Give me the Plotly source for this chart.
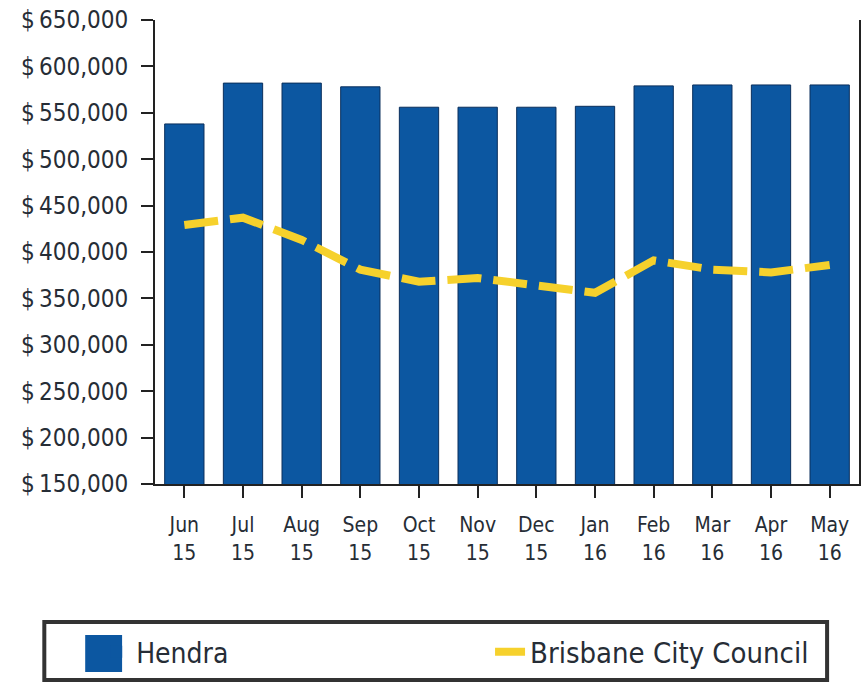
import plotly.graph_objects as go

months = ["Jun<br>15", "Jul<br>15", "Aug<br>15", "Sep<br>15", "Oct<br>15", "Nov<br>15",
          "Dec<br>15", "Jan<br>16", "Feb<br>16", "Mar<br>16", "Apr<br>16", "May<br>16"]
hendra = [538000, 582000, 582000, 578000, 556000, 556000, 556000, 557000, 579000, 580000, 580000, 580000]
brisbane = [429000, 437000, 413000, 381000, 368000, 372000, 364000, 356000, 391000, 381000, 378000, 386000]
y_ticks = [150000, 200000, 250000, 300000, 350000, 400000, 450000, 500000, 550000, 600000, 650000]
y_tick_labels = ["$\u2009150,000", "$\u2009200,000", "$\u2009250,000", "$\u2009300,000",
                 "$\u2009350,000", "$\u2009400,000", "$\u2009450,000", "$\u2009500,000",
                 "$\u2009550,000", "$\u2009600,000", "$\u2009650,000"]

BLUE = "#0c57a1"
YELLOW = "#f6d12c"
FONT = "DejaVu Sans Condensed, DejaVu Sans"
TXT = "#262d36"

fig = go.Figure()
fig.add_trace(go.Bar(x=months, y=hendra, name="Hendra", showlegend=False,
                     marker=dict(color=BLUE, line=dict(color="#0a2f5c", width=1))))
fig.add_trace(go.Bar(x=[months[0]], y=[None], name="Hendra", legend="legend",
                     marker=dict(color=BLUE, line=dict(color=BLUE, width=0))))
fig.add_trace(go.Scatter(x=months, y=brisbane, name="Brisbane City Council", mode="lines",
                         legend="legend2",
                         line=dict(color=YELLOW, width=8, dash="34px,12px")))

W, H = 865, 683
L, R, T, B = 155, 4, 20, 199
pw, ph = W - L - R, H - T - B
def px(x): return (x - L) / pw
def py(y): return (H - B - y) / ph

fig.update_layout(
    width=W, height=H,
    margin=dict(l=L, r=R, t=T, b=B),
    paper_bgcolor="white", plot_bgcolor="white",
    barmode="overlay", bargap=0.33,
    font=dict(family=FONT, color=TXT),
    xaxis=dict(showgrid=False, showline=True, linecolor="#222222", linewidth=2,
               ticks="outside", ticklen=12, tickwidth=2, tickcolor="#222222",
               ticklabelstandoff=9,
               tickfont=dict(size=21, family=FONT, color=TXT)),
    yaxis=dict(range=[150000, 650000], tickvals=y_ticks, ticktext=y_tick_labels,
               showgrid=False, showline=True, linecolor="#222222", linewidth=2,
               mirror=True, zeroline=False,
               ticks="outside", ticklen=12, tickwidth=2, tickcolor="#222222",
               ticklabelstandoff=8,
               tickfont=dict(size=24, family=FONT, color=TXT)),
    legend=dict(orientation="h", x=px(96), xanchor="left", y=py(652), yanchor="middle",
                bgcolor="rgba(0,0,0,0)", font=dict(size=28, family=FONT, color=TXT)),
    legend2=dict(orientation="h", x=px(491), xanchor="left", y=py(652), yanchor="middle",
                 bgcolor="rgba(0,0,0,0)", font=dict(size=29, family=FONT, color=TXT)),
    shapes=[
        dict(type="rect", xref="paper", yref="paper",
             x0=px(44), x1=px(829), y0=py(680), y1=py(622),
             line=dict(color="#333333", width=4)),
        dict(type="rect", xref="paper", yref="paper",
             x0=px(85), x1=px(122), y0=py(672), y1=py(635),
             fillcolor=BLUE, line=dict(width=0)),
    ],
)

fig.write_html("out.html", config={"displayModeBar": False},
               post_script="document.body.style.margin='0';")
